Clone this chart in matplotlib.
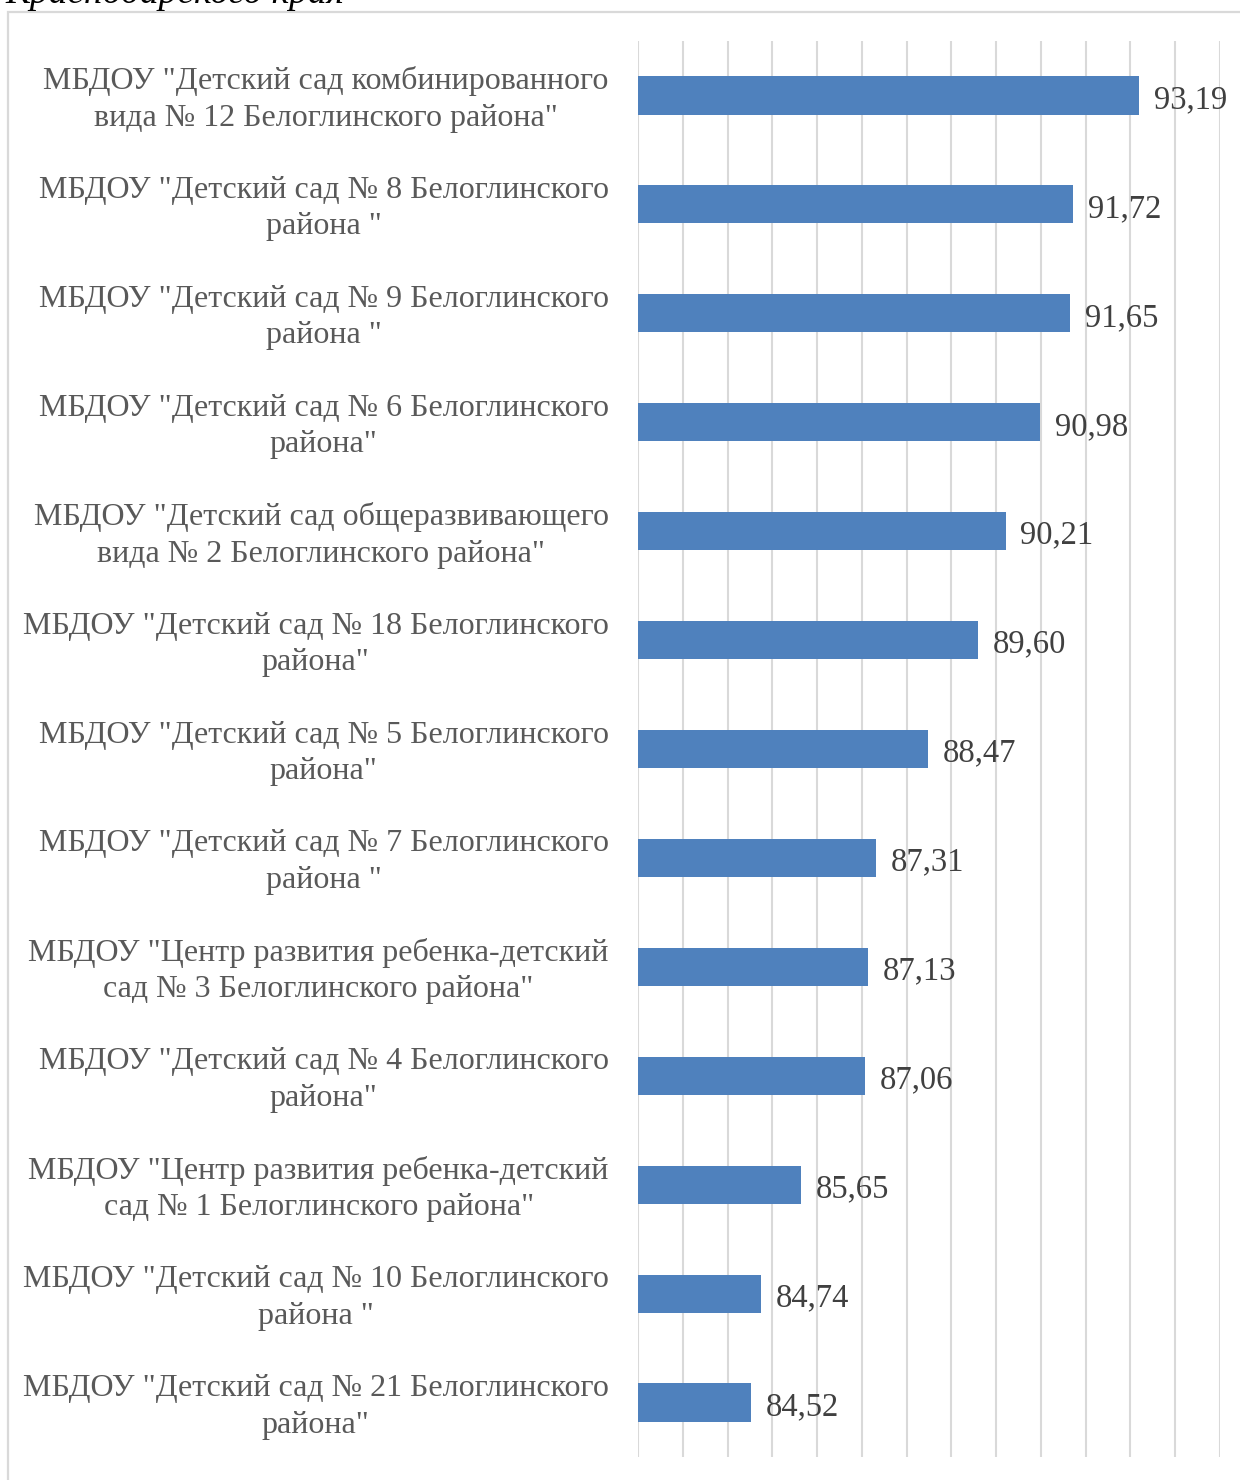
import numpy as np
import matplotlib.pyplot as plt
from matplotlib.patches import Rectangle
from matplotlib.transforms import ScaledTranslation

# Данные (сверху вниз)
organizations = [
    'МБДОУ "Детский сад комбинированного\nвида № 12 Белоглинского района"',
    'МБДОУ "Детский сад № 8 Белоглинского\nрайона "',
    'МБДОУ "Детский сад № 9 Белоглинского\nрайона "',
    'МБДОУ "Детский сад № 6 Белоглинского\nрайона"',
    'МБДОУ "Детский сад общеразвивающего\nвида № 2 Белоглинского района"',
    'МБДОУ "Детский сад № 18 Белоглинского\nрайона"',
    'МБДОУ "Детский сад № 5 Белоглинского\nрайона"',
    'МБДОУ "Детский сад № 7 Белоглинского\nрайона "',
    'МБДОУ "Центр развития ребенка-детский\nсад № 3 Белоглинского района"',
    'МБДОУ "Детский сад № 4 Белоглинского\nрайона"',
    'МБДОУ "Центр развития ребенка-детский\nсад № 1 Белоглинского района"',
    'МБДОУ "Детский сад № 10 Белоглинского\nрайона "',
    'МБДОУ "Детский сад № 21 Белоглинского\nрайона"',
]
scores = [93.19, 91.72, 91.65, 90.98, 90.21, 89.60, 88.47,
          87.31, 87.13, 87.06, 85.65, 84.74, 84.52]

plt.rcParams['font.family'] = ['Liberation Serif', 'DejaVu Serif']

W, H = 1240, 1480
fig = plt.figure(figsize=(W / 100, H / 100), dpi=100)

# Обрезанный заголовок сверху
fig.text(5 / W, 1 - 3 / H, 'Краснодарского края', fontsize=27, style='italic',
         color='black', ha='left', va='baseline')

# Рамка области диаграммы
fig.patches.append(Rectangle((8 / W, -0.05), 1.2, 1 - 12 / H + 0.05,
                             transform=fig.transFigure, fill=False,
                             edgecolor='#d9d9d9', linewidth=1.6))

ax = fig.add_axes([638 / W, 23 / H, 582 / W, 1416 / H])
y = np.arange(len(scores))
ax.barh(y, scores, height=0.35, color='#4f81bd', zorder=3)

for yi, v in zip(y, scores):
    ax.text(v + 0.33, yi + 0.04, f'{v:.2f}'.replace('.', ','), va='center', ha='left',
            fontsize=23.5, color='#404040', zorder=4)

ax.set_xlim(82, 95)
ax.set_ylim(len(scores) - 0.5, -0.5)
ax.set_xticks(np.arange(82, 96, 1))
ax.xaxis.grid(True, color='#d9d9d9', linewidth=1.5, zorder=0)
ax.tick_params(axis='x', length=0, labelbottom=False)
ax.set_yticks(y)
ax.set_yticklabels(organizations, fontsize=23, color='#595959',
                   multialignment='center', linespacing=1.34)
ax.tick_params(axis='y', length=0, pad=21)
shift = ScaledTranslation(0, 0.03, fig.dpi_scale_trans)
for lbl in ax.get_yticklabels():
    lbl.set_transform(lbl.get_transform() + shift)
for s in ax.spines.values():
    s.set_visible(False)

fig.savefig('out.png', dpi=100)
